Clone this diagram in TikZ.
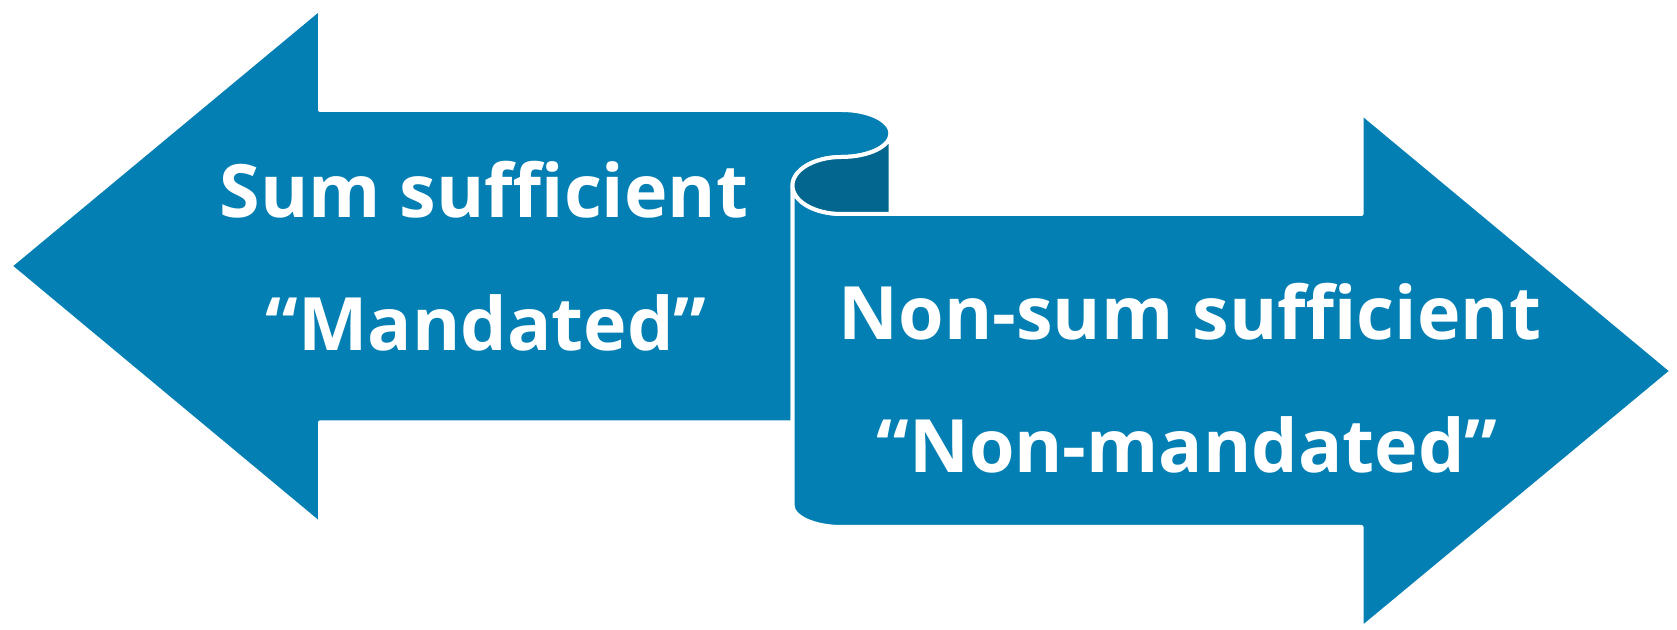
\documentclass[tikz,border=0pt]{standalone}
\usepackage{fontspec}
\setmainfont{Open Sans}
\definecolor{scrollblue}{RGB}{3,127,179}
\definecolor{scrolldark}{RGB}{2,102,143}
\tikzset{
  band/.style={fill=scrollblue, draw=white, line width=2pt, line join=round},
  rollin/.style={fill=scrolldark, draw=white, line width=2pt, line join=round},
  bandtext/.style={text=white, font=\fontsize{36.8}{44}\selectfont\bfseries, anchor=base, inner sep=0pt}
}
\begin{document}
\begin{tikzpicture}[x=0.5pt, y=0.5pt]
    \useasboundingbox (0,0) rectangle (1677,630);

    % left arrow, ending in the curl
    \draw[band] (10,364) -- (320,621.5) -- (320,520) -- (841.5,520)
        arc[start angle=90, end angle=-90, x radius=49, y radius=23.5]
        arc[start angle=90, end angle=180, x radius=49, y radius=28.5]
        -- (792.5,207.6) -- (320,207.6) -- (320,106) -- cycle;

    % right arrow
    \draw[band] (792.5,444.5) -- (792.5,125)
        arc[start angle=180, end angle=270, x radius=49, y radius=22]
        -- (1361.5,103) -- (1361.5,1.5) -- (1672,259) -- (1361.5,517) -- (1361.5,416) -- (841.5,416)
        arc[start angle=270, end angle=180, x radius=49, y radius=28.5] -- cycle;

    % inside of the roll
    \draw[rollin] (792.5,444.5)
        arc[start angle=180, end angle=90, x radius=49, y radius=28.5]
        arc[start angle=-90, end angle=0, x radius=49, y radius=23.5]
        -- (890.5,416) -- (841.5,416)
        arc[start angle=270, end angle=180, x radius=49, y radius=28.5] -- cycle;

    % labels
    \node[bandtext] (sumtext) at (484,412) {Sum sufficient};
    \node[bandtext] (mandtext) at (486,279) {“Mandated”};
    \node[bandtext] (nonsumtext) at (1190,290) {Non-sum sufficient};
    \node[bandtext] (nonmandtext) at (1187,157.3) {“Non-mandated”};
\end{tikzpicture}
\end{document}
